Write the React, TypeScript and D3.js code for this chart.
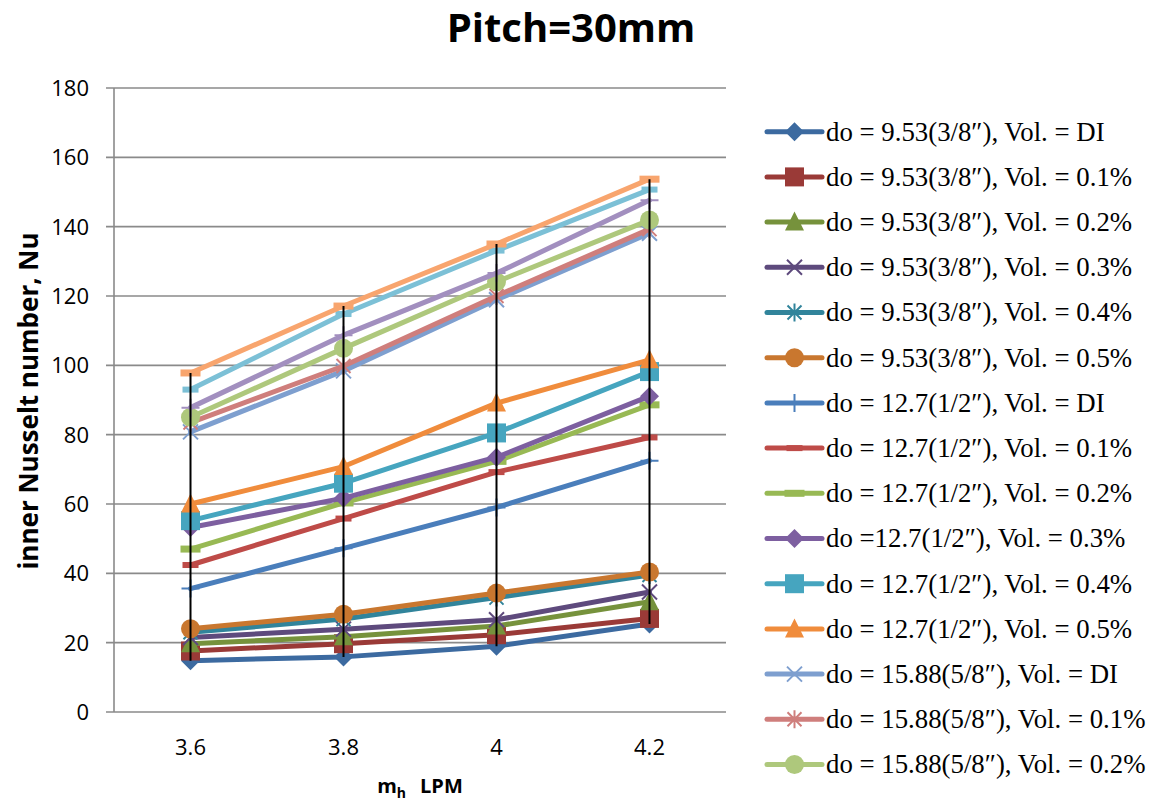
import React from "react";
import * as d3 from "d3";

// x categories (m_h, LPM)
const categories = ["3.6", "3.8", "4", "4.2"];
const yTicks = [0, 20, 40, 60, 80, 100, 120, 140, 160, 180];

// do = 9.53 (3/8")
const d953_DI = [14.8, 15.9, 19.0, 25.4];
const d953_01 = [17.6, 19.7, 22.3, 27.0];
const d953_02 = [19.7, 21.7, 24.8, 31.8];
const d953_03 = [21.5, 23.9, 26.6, 34.6];
const d953_04 = [23.0, 26.8, 33.0, 39.5];
const d953_05 = [24.0, 28.2, 34.3, 40.4];
// do = 12.7 (1/2")
const d127_DI = [35.6, 47.2, 59.0, 72.5];
const d127_01 = [42.4, 55.8, 69.2, 79.2];
const d127_02 = [47.0, 60.3, 72.3, 88.6];
const d127_03 = [53.2, 61.7, 73.5, 91.1];
const d127_04 = [55.2, 66.0, 80.5, 98.2];
const d127_05 = [60.0, 70.8, 89.1, 101.6];
// do = 15.88 (5/8")
const d1588_DI = [80.8, 98.4, 118.9, 138.1];
const d1588_01 = [83.5, 99.8, 120.0, 139.3];
const d1588_02 = [85.0, 104.9, 124.1, 141.9];
const d1588_03 = [87.8, 108.7, 126.6, 147.6];
const d1588_04 = [93.0, 114.8, 133.1, 150.7];
const d1588_05 = [97.8, 117.1, 135.0, 153.7];

const seriesNames = [
  "do = 9.53(3/8″), Vol. = DI",
  "do = 9.53(3/8″), Vol. = 0.1%",
  "do = 9.53(3/8″), Vol. = 0.2%",
  "do = 9.53(3/8″), Vol. = 0.3%",
  "do = 9.53(3/8″), Vol. = 0.4%",
  "do = 9.53(3/8″), Vol. = 0.5%",
  "do = 12.7(1/2″), Vol. = DI",
  "do = 12.7(1/2″), Vol. = 0.1%",
  "do = 12.7(1/2″), Vol. = 0.2%",
  "do =12.7(1/2″), Vol. = 0.3%",
  "do = 12.7(1/2″), Vol. = 0.4%",
  "do = 12.7(1/2″), Vol. = 0.5%",
  "do = 15.88(5/8″), Vol. = DI",
  "do = 15.88(5/8″), Vol. = 0.1%",
  "do = 15.88(5/8″), Vol. = 0.2%",
  "do = 15.88(5/8″), Vol. = 0.3%",
  "do = 15.88(5/8″), Vol. = 0.4%",
  "do = 15.88(5/8″), Vol. = 0.5%",
];
const seriesValues = [
  d953_DI, d953_01, d953_02, d953_03, d953_04, d953_05,
  d127_DI, d127_01, d127_02, d127_03, d127_04, d127_05,
  d1588_DI, d1588_01, d1588_02, d1588_03, d1588_04, d1588_05,
];
const colors = [
  "#3C6AA0", "#9A3A37", "#76923C", "#5E4A7D", "#31849B", "#C9772F",
  "#4A7EBB", "#BE4B48", "#98B954", "#7D5FA0", "#46A5BF", "#F08C3C",
  "#7E9FCF", "#CF7E7C", "#AEC87C", "#A28FBF", "#7CC0D6", "#F8A56E",
];
const markerCycle = ["diamond", "square", "triangle", "x", "star", "circle", "plus", "dash", "longdash"];
const legendCount = 15;

const W = 1153;
const H = 802;
const plotL = 114, plotR = 726, plotT = 88, plotB = 712;

const Marker = ({ type, x, y, color }: { type: string; x: number; y: number; color: string }) => {
  const r = 9.5;
  switch (type) {
    case "diamond":
      return <path d={`M${x},${y - r}L${x + r},${y}L${x},${y + r}L${x - r},${y}Z`} fill={color} />;
    case "square":
      return <rect x={x - r} y={y - r} width={2 * r} height={2 * r} fill={color} />;
    case "triangle":
      return <path d={`M${x},${y - r - 1}L${x + r},${y + r - 1}L${x - r},${y + r - 1}Z`} fill={color} />;
    case "x":
      return (
        <path d={`M${x - 7.5},${y - 7.5}L${x + 7.5},${y + 7.5}M${x - 7.5},${y + 7.5}L${x + 7.5},${y - 7.5}`} stroke={color} strokeWidth={2} fill="none" />
      );
    case "star":
      return (
        <path
          d={`M${x - 7},${y - 7}L${x + 7},${y + 7}M${x - 7},${y + 7}L${x + 7},${y - 7}M${x},${y - 9}L${x},${y + 9}`}
          stroke={color}
          strokeWidth={2}
          fill="none"
        />
      );
    case "circle":
      return <circle cx={x} cy={y} r={r} fill={color} />;
    case "plus":
      return <path d={`M${x - 9},${y}L${x + 9},${y}M${x},${y - 9}L${x},${y + 9}`} stroke={color} strokeWidth={2} fill="none" />;
    case "dash":
      return <rect x={x - 8} y={y - 3} width={16} height={6} fill={color} />;
    case "longdash":
      return <rect x={x - 10} y={y - 3.5} width={20} height={7} fill={color} />;
    default:
      return null;
  }
};

const Chart = () => {
  const x = d3.scaleBand<string>().domain(categories).range([plotL, plotR]).padding(0);
  const y = d3.scaleLinear().domain([0, 180]).range([plotB, plotT]);
  const cx = (c: string) => (x(c) as number) + x.bandwidth() / 2;

  const line = d3
    .line<number>()
    .x((_, i) => cx(categories[i]))
    .y((d) => y(d));

  // high-low lines (max to min over all series at each category)
  const hiLo = categories.map((c, i) => {
    const vals = seriesValues.map((s) => s[i]);
    return { c, hi: d3.max(vals) as number, lo: d3.min(vals) as number };
  });

  const sans = "'Open Sans', 'Liberation Sans', sans-serif";
  const serif = "'Liberation Serif', 'Times New Roman', serif";

  return (
    <svg width={W} height={H} style={{ position: "absolute", left: 0, top: 0, background: "#fff" }}>
      {/* title */}
      <text x={571} y={42} textAnchor="middle" fontFamily={sans} fontWeight="bold" fontSize={40} fill="#000">
        Pitch=30mm
      </text>

      {/* grid + y axis */}
      {yTicks.map((t) => (
        <g key={t}>
          <line x1={plotL - 8} x2={plotR} y1={y(t)} y2={y(t)} stroke="#8a8a8a" strokeWidth={1.6} />
          <text x={89} y={y(t)} dy="0.36em" textAnchor="end" fontFamily={sans} fontSize={22} fill="#000">
            {t}
          </text>
        </g>
      ))}
      <line x1={plotL} x2={plotL} y1={plotT} y2={plotB} stroke="#8a8a8a" strokeWidth={1.6} />

      {/* x labels */}
      {categories.map((c) => (
        <text key={c} x={cx(c)} y={755} textAnchor="middle" fontFamily={sans} fontSize={22} fill="#000">
          {c}
        </text>
      ))}

      {/* axis titles */}
      <text
        transform={`translate(38,${(plotT + plotB) / 2 + 1}) rotate(-90)`}
        textAnchor="middle"
        fontFamily={sans}
        fontWeight="bold"
        fontSize={26}
        fill="#000"
      >
        inner Nusselt number, Nu
      </text>
      <text x={(plotL + plotR) / 2} y={793} textAnchor="middle" fontFamily={sans} fontWeight="bold" fontSize={20} fill="#000">
        m<tspan fontSize={14} dy={5}>h</tspan>
        <tspan dy={-5} dx={14}>LPM</tspan>
      </text>

      {/* series */}
      {seriesValues.map((vals, si) => (
        <g key={si}>
          <path
            d={line(vals) as string}
            fill="none"
            stroke={colors[si]}
            strokeWidth={5}
            strokeLinejoin="round"
            strokeLinecap="round"
          />
          {vals.map((v, i) => (
            <Marker key={i} type={markerCycle[si % markerCycle.length]} x={cx(categories[i])} y={y(v)} color={colors[si]} />
          ))}
        </g>
      ))}

      {/* high-low lines */}
      {hiLo.map((d) => (
        <line key={d.c} x1={cx(d.c)} x2={cx(d.c)} y1={y(d.hi)} y2={y(d.lo)} stroke="#000" strokeWidth={2} />
      ))}

      {/* legend */}
      {seriesNames.slice(0, legendCount).map((name, i) => {
        const ly = 131.7 + i * 45.2;
        return (
          <g key={name}>
            <line x1={767} x2={822} y1={ly} y2={ly} stroke={colors[i]} strokeWidth={5} strokeLinecap="round" />
            <Marker type={markerCycle[i % markerCycle.length]} x={794.5} y={ly} color={colors[i]} />
            <text x={826} y={ly} dy="0.33em" fontFamily={serif} fontSize={26.8} fill="#000">
              {name}
            </text>
          </g>
        );
      })}
    </svg>
  );
};

export default function App() {
  return <Chart />;
}
